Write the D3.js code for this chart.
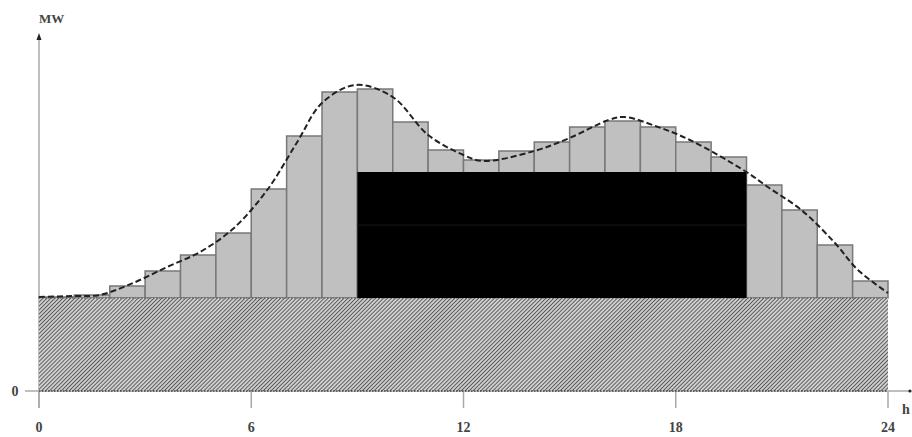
<!DOCTYPE html>
<html>
<head>
<meta charset="utf-8">
<script src="https://cdn.jsdelivr.net/npm/d3@7"></script>
<style>
  html, body { margin: 0; padding: 0; background: #fff; }
  svg { display: block; font-family: "Liberation Serif", "DejaVu Serif", serif; }
</style>
</head>
<body>
<div id="chart"></div>
<script>
// hourly load (MW, arbitrary units)
const hours = d3.range(24);
const load = [94, 96, 105, 120, 136, 158, 202, 255, 299, 302, 269, 241,
              231, 240, 249, 264, 270, 264, 249, 234, 206, 181, 146, 110];
// smooth load curve (hour, MW)
const curveHours = [0, 1, 1.72, 2.66, 3.62, 4.55, 5.48, 6.45, 7.3, 8, 8.95, 10, 11, 12, 12.55,
                    14, 15, 16.1, 16.55, 17.5, 18.4, 20, 20.6, 21.55, 22.5, 23.15, 24];
const curveMW = [94, 95, 96, 108, 124, 139, 162, 201, 249, 288, 306, 294, 256, 236, 230,
                 240, 253, 271, 274, 264, 251, 219, 204, 181, 148, 121, 98];
const baseLoad = 93;
const blockStart = 9, blockEnd = 20, blockTop = 219;
const xTicks = [0, 6, 12, 18, 24];

const width = 912, height = 437;
const x = d3.scaleLinear().domain([0, 24]).range([39, 888]);
const y = d3.scaleLinear().domain([0, 355]).range([391, 36]);

const svg = d3.select("#chart").append("svg")
  .attr("width", width)
  .attr("height", height);

const defs = svg.append("defs");
const pat = defs.append("pattern")
  .attr("id", "hatch")
  .attr("patternUnits", "userSpaceOnUse")
  .attr("width", 2.8).attr("height", 2.8)
  .attr("patternTransform", "rotate(45)");
pat.append("rect").attr("width", 2.8).attr("height", 2.8).attr("fill", "#cfcfcf");
pat.append("line")
  .attr("x1", 0).attr("y1", 0).attr("x2", 0).attr("y2", 2.8)
  .attr("stroke", "#3a3a3a").attr("stroke-width", 1.5);

// axes
const axisColor = "#a8a8a8";
const textColor = "#444";
svg.append("line")
  .attr("x1", x(0)).attr("x2", x(0))
  .attr("y1", 38).attr("y2", 408)
  .attr("stroke", axisColor).attr("stroke-width", 1.5);
svg.append("path")
  .attr("d", `M${x(0) - 2.5},40 L${x(0)},33 L${x(0) + 2.5},40 Z`)
  .attr("fill", "#222");
svg.append("line")
  .attr("x1", 25).attr("x2", 910)
  .attr("y1", y(0)).attr("y2", y(0))
  .attr("stroke", axisColor).attr("stroke-width", 1.5);
svg.append("circle")
  .attr("cx", 910).attr("cy", y(0)).attr("r", 1.6).attr("fill", "#222");

svg.selectAll(".xtick")
  .data(xTicks)
  .join("line")
  .attr("class", "xtick")
  .attr("x1", d => x(d)).attr("x2", d => x(d))
  .attr("y1", y(0)).attr("y2", 408)
  .attr("stroke", axisColor).attr("stroke-width", 1.5);

svg.selectAll(".xlabel")
  .data(xTicks)
  .join("text")
  .attr("class", "xlabel")
  .attr("x", d => x(d))
  .attr("y", 432)
  .attr("text-anchor", "middle")
  .attr("fill", textColor)
  .style("font-size", "14px")
  .style("font-weight", "bold")
  .text(d => d);

svg.append("text")
  .attr("x", 15).attr("y", y(0) + 5)
  .attr("text-anchor", "middle")
  .attr("fill", textColor)
  .style("font-size", "14px")
  .style("font-weight", "bold")
  .text("0");

svg.append("text")
  .attr("x", 39).attr("y", 23)
  .attr("fill", textColor)
  .style("font-size", "13px")
  .style("font-weight", "bold")
  .text("MW");

svg.append("text")
  .attr("x", 902).attr("y", 414)
  .attr("fill", textColor)
  .style("font-size", "14px")
  .style("font-weight", "bold")
  .text("h");

// bars
svg.append("g")
  .selectAll("rect")
  .data(hours)
  .join("rect")
  .attr("x", d => x(d))
  .attr("width", x(1) - x(0))
  .attr("y", d => y(load[d]))
  .attr("height", d => y(baseLoad) - y(load[d]))
  .attr("fill", "#c0c0c0")
  .attr("stroke", "#787878")
  .attr("stroke-width", 1.5);

// base load
svg.append("rect")
  .attr("x", x(0)).attr("width", x(24) - x(0))
  .attr("y", y(baseLoad)).attr("height", y(0) - y(baseLoad))
  .attr("fill", "url(#hatch)");
svg.append("line")
  .attr("x1", x(0)).attr("x2", x(24))
  .attr("y1", y(0)).attr("y2", y(0))
  .attr("stroke", "#444").attr("stroke-width", 1.5)
  .attr("stroke-dasharray", "1.5,1.5");
svg.append("line")
  .attr("x1", x(0)).attr("x2", x(24))
  .attr("y1", y(baseLoad)).attr("y2", y(baseLoad))
  .attr("stroke", "#555").attr("stroke-width", 1.2)
  .attr("stroke-dasharray", "1.5,1.5");

// block
svg.append("rect")
  .attr("x", x(blockStart)).attr("width", x(blockEnd) - x(blockStart))
  .attr("y", y(blockTop)).attr("height", y(baseLoad) - y(blockTop))
  .attr("fill", "#000");
svg.append("line")
  .attr("x1", x(blockStart)).attr("x2", x(blockEnd))
  .attr("y1", 225).attr("y2", 225)
  .attr("stroke", "#161616").attr("stroke-width", 1);

// load curve
const line = d3.line()
  .x((d, i) => x(d))
  .y((d, i) => y(curveMW[i]))
  .curve(d3.curveCatmullRom.alpha(0.5));
svg.append("path")
  .datum(curveHours)
  .attr("d", line)
  .attr("fill", "none")
  .attr("stroke", "#222")
  .attr("stroke-width", 2)
  .attr("stroke-dasharray", "6,3");
</script>
</body>
</html>
